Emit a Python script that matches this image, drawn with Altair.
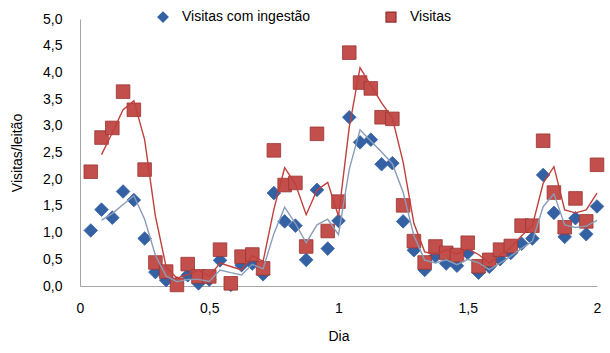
import altair as alt
import pandas as pd

hours = list(range(1, 49))
visitas_ingestao = [1.04, 1.43, 1.28, 1.77, 1.61, 0.89, 0.26, 0.11, 0.05, 0.20, 0.05, 0.12,
                    0.48, 0.02, 0.39, 0.42, 0.22, 1.74, 1.21, 1.13, 0.49, 1.80, 0.70, 1.22,
                    3.16, 2.69, 2.74, 2.28, 2.30, 1.21, 0.67, 0.30, 0.56, 0.42, 0.38, 0.62,
                    0.25, 0.36, 0.50, 0.62, 0.79, 0.89, 2.08, 1.37, 0.92, 1.27, 0.97, 1.49]
visitas = [2.14, 2.78, 2.96, 3.64, 3.30, 2.18, 0.44, 0.27, 0.02, 0.41, 0.18, 0.18,
           0.68, 0.05, 0.55, 0.59, 0.33, 2.54, 1.89, 1.93, 0.74, 2.85, 1.03, 1.58,
           4.37, 3.81, 3.70, 3.16, 3.13, 1.51, 0.84, 0.44, 0.74, 0.62, 0.58, 0.81,
           0.37, 0.49, 0.68, 0.75, 1.13, 1.13, 2.72, 1.75, 1.10, 1.64, 1.21, 2.27]
series = ["Visitas com ingestão", "Visitas"]
x_ticks = [0.0, 0.5, 1.0, 1.5, 2.0]
y_ticks = [0.0, 0.5, 1.0, 1.5, 2.0, 2.5, 3.0, 3.5, 4.0, 4.5, 5.0]
point_colors = ["#3361a3", "#c24f4b"]
point_strokes = ["#3361a3", "#9a3532"]
shapes = ["diamond", "square"]
line_colors = ["#8a9cb8", "#c0403d"]

dia = [h / 24 for h in hours]
rows = []
for s, vals in zip(series, [visitas_ingestao, visitas]):
    ma = pd.Series(vals).rolling(2).mean().tolist()
    for d, v, m in zip(dia, vals, ma):
        rows.append({"Dia": d, "valor": v, "mm": m, "serie": s})
df = pd.DataFrame(rows)

font = "Liberation Sans"
x_axis = alt.Axis(values=x_ticks, title="Dia",
                  labelExpr="replace(toString(datum.value), '.', ',')",
                  grid=False, ticks=False, domainColor="#a6a6a6",
                  labelFlush=False, labelOverlap=False,
                  labelPadding=15, titlePadding=14)
y_axis = alt.Axis(values=y_ticks, title="Visitas/leitão",
                  labelExpr="replace(format(datum.value, '.1f'), '.', ',')",
                  grid=False, ticks=False, domainColor="#a6a6a6",
                  labelFlush=False, labelOverlap=False, tickCount=11,
                  labelPadding=18, titlePadding=18)
x_scale = alt.Scale(domain=[0, 2], nice=False)
y_scale = alt.Scale(domain=[0, 5], nice=False)

points = alt.Chart(df).mark_point(filled=True, size=185, opacity=1, strokeWidth=0.8).encode(
    x=alt.X("Dia:Q", scale=x_scale, axis=x_axis),
    y=alt.Y("valor:Q", scale=y_scale, axis=y_axis),
    color=alt.Color("serie:N", scale=alt.Scale(domain=series, range=point_colors),
                    legend=alt.Legend(title=None, orient="none", legendX=76, legendY=-9,
                                      direction="horizontal", columns=2, columnPadding=72,
                                      symbolSize=95, labelOffset=12, labelFontSize=14,
                                      labelFont=font, labelColor="#000000", labelLimit=300)),
    shape=alt.Shape("serie:N", scale=alt.Scale(domain=series, range=shapes)),
    stroke=alt.Stroke("serie:N", scale=alt.Scale(domain=series, range=point_strokes), legend=None),
    order=alt.Order("serie:N", sort="descending"),
)

line_blue = alt.Chart(df).transform_filter(
    (alt.datum.serie == series[0]) & alt.expr.isValid(alt.datum.mm)
).mark_line(strokeWidth=1.4, color=line_colors[0]).encode(
    x=alt.X("Dia:Q", scale=x_scale, axis=x_axis),
    y=alt.Y("mm:Q", scale=y_scale, axis=y_axis),
)
line_red = alt.Chart(df).transform_filter(
    (alt.datum.serie == series[1]) & alt.expr.isValid(alt.datum.mm)
).mark_line(strokeWidth=1.4, color=line_colors[1]).encode(
    x=alt.X("Dia:Q", scale=x_scale, axis=x_axis),
    y=alt.Y("mm:Q", scale=y_scale, axis=y_axis),
)

chart = alt.layer(points, line_blue, line_red).properties(
    width=517, height=267,
    autosize=alt.AutoSizeParams(type="none"),
    padding={"left": 80, "top": 19, "right": 13, "bottom": 67},
    background="#ffffff",
).configure_view(stroke=None).configure_axis(
    labelFont=font, titleFont=font, labelFontSize=14, titleFontSize=14,
    labelColor="#000000", titleColor="#000000", titleFontWeight="normal"
)

chart.save("out.html", embed_options={"renderer": "svg", "actions": False})
